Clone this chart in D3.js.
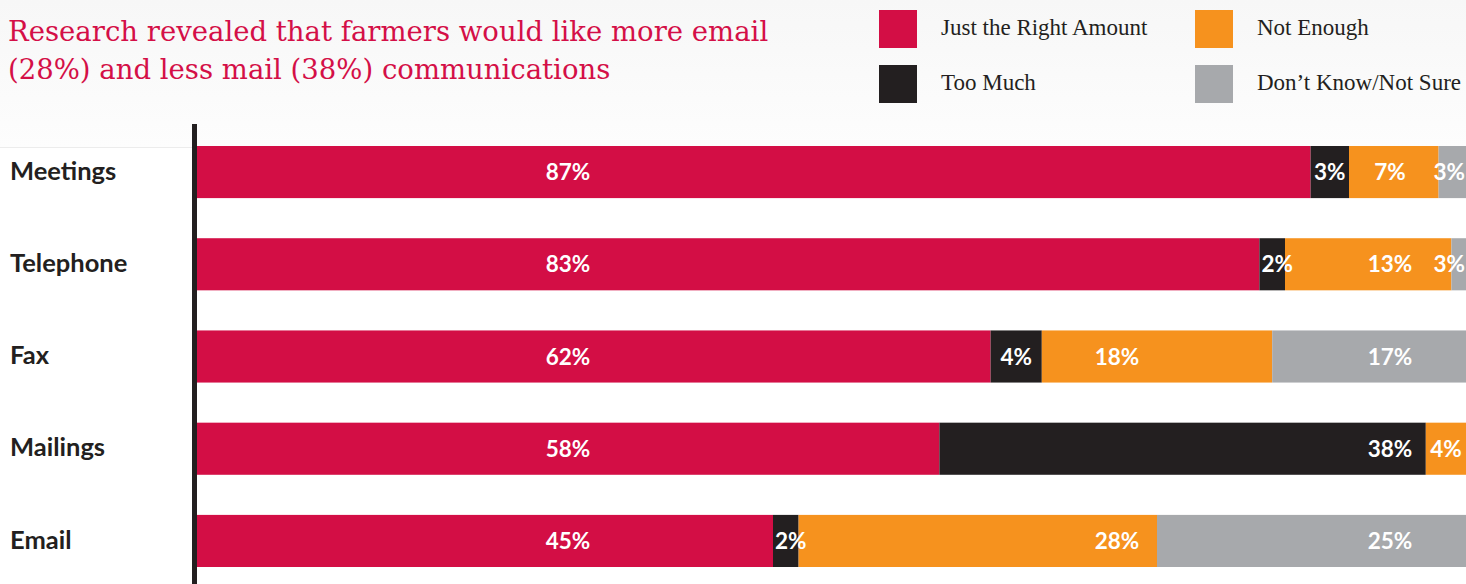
<!DOCTYPE html>
<html>
<head>
<meta charset="utf-8">
<script src="https://cdn.jsdelivr.net/npm/d3@7"></script>
<style>
  body { margin: 0; background: #fff; }
  svg { display: block; }
</style>
</head>
<body>
<script>
// chart size
var w = 1466;
var h = 584;

// data
var categories = ["Meetings", "Telephone", "Fax", "Mailings", "Email"];
var seriesNames = ["Just the Right Amount", "Too Much", "Not Enough", "Don\u2019t Know/Not Sure"];
var justRight = [87, 83, 62, 58, 45];
var tooMuch = [3, 2, 4, 38, 2];
var notEnough = [7, 13, 18, 4, 28];
var dontKnow = [3, 3, 17, 0, 25];
var titleLines = ["Research revealed that farmers would like more email",
                  "(28%) and less mail (38%) communications"];

var colors = ["#d30e45", "#231f20", "#f6921e", "#a7a9ac"];

var rows = categories.map(function(c, i) {
  return { cat: c, vals: [justRight[i], tooMuch[i], notEnough[i], dontKnow[i]] };
});

var svg = d3.select("body")
            .append("svg")
            .attr("width", w)
            .attr("height", h);

// faint header background
var defs = svg.append("defs");
var grad = defs.append("linearGradient").attr("id", "hdr").attr("x1", 0).attr("y1", 0).attr("x2", 0).attr("y2", 1);
grad.append("stop").attr("offset", "0%").attr("stop-color", "#f7f7f7");
grad.append("stop").attr("offset", "100%").attr("stop-color", "#fdfdfd");
svg.append("rect").attr("x", 0).attr("y", 0).attr("width", w).attr("height", 147).attr("fill", "url(#hdr)");
svg.append("line").attr("x1", 0).attr("x2", 192).attr("y1", 147.5).attr("y2", 147.5)
   .attr("stroke", "#ececec").attr("stroke-width", 1);

// title
svg.append("text")
   .attr("x", 8)
   .attr("font-family", "DejaVu Serif")
   .attr("font-size", "27.5px")
   .attr("fill", "#d40f47")
   .selectAll("tspan")
   .data(titleLines)
   .enter()
   .append("tspan")
   .attr("x", 8)
   .attr("y", function(d, i) { return 41 + i * 38; })
   .text(function(d) { return d; });

// legend
var legendPos = [[879, 10], [879, 65], [1195, 10], [1195, 65]];
var legend = svg.selectAll("g.legend")
   .data(seriesNames)
   .enter()
   .append("g")
   .attr("class", "legend")
   .attr("transform", function(d, i) { return "translate(" + legendPos[i][0] + "," + legendPos[i][1] + ")"; });
legend.append("rect")
   .attr("width", 38).attr("height", 38)
   .attr("fill", function(d, i) { return colors[i]; });
legend.append("text")
   .attr("x", 62).attr("y", 25)
   .attr("font-family", "Liberation Serif")
   .attr("font-size", "23px")
   .attr("fill", "#231f20")
   .text(function(d) { return d; });

// scales
var x = d3.scaleLinear().domain([0, 100]).range([197, 1477]);
var y = d3.scaleBand().domain(categories).range([146, 567]).paddingInner(0.435);

// stacked segments
var segs = [];
rows.forEach(function(r) {
  var acc = 0;
  r.vals.forEach(function(v, k) {
    segs.push({ cat: r.cat, k: k, v: v, x0: acc, x1: acc + v });
    acc += v;
  });
});

svg.append("g")
   .selectAll("rect")
   .data(segs.filter(function(d) { return d.v > 0; }))
   .enter()
   .append("rect")
   .attr("x", function(d) { return x(d.x0); })
   .attr("y", function(d) { return y(d.cat); })
   .attr("width", function(d) { return x(d.x1) - x(d.x0); })
   .attr("height", y.bandwidth())
   .attr("fill", function(d) { return colors[d.k]; });

// category axis
var yAxis = svg.append("g")
   .attr("transform", "translate(197,0)")
   .call(d3.axisLeft(y).tickSize(0));
yAxis.select(".domain").remove();
yAxis.selectAll("text")
   .attr("x", -187)
   .attr("dy", "0.3em")
   .attr("text-anchor", "start")
   .attr("font-family", "Lato")
   .attr("font-weight", "bold")
   .attr("font-size", "25.5px")
   .attr("fill", "#231f20");

svg.append("rect").attr("x", 192).attr("y", 124).attr("width", 5).attr("height", h - 124).attr("fill", "#231f20");

// value labels, snapped to label columns like the original layout
var cols = [568, 1117, 1390];
var labels = svg.append("g")
   .selectAll("text")
   .data(segs.filter(function(d) { return d.v > 0; }))
   .enter()
   .append("text")
   .attr("y", function(d) { return y(d.cat) + y.bandwidth() / 2; })
   .attr("dy", "0.36em")
   .attr("font-family", "Lato")
   .attr("font-weight", "bold")
   .attr("font-size", "22.5px")
   .attr("fill", "#fff")
   .text(function(d) { return d.v + "%"; });

labels.each(function(d) {
  var t = d3.select(this);
  var tw = this.getComputedTextLength();
  var a = x(d.x0), b = Math.min(x(d.x1), w);
  var fits = cols.filter(function(c) { return c - tw / 2 > a + 2 && c + tw / 2 < b - 2; });
  var cx;
  if (fits.length) {
    cx = d.k == 0 ? fits[0] : fits[fits.length - 1];
  } else if (b - a > tw + 6) {
    cx = (a + b) / 2;
  } else {
    cx = a + 2 + tw / 2;
  }
  cx = Math.min(cx, w - 1 - tw / 2);
  t.attr("x", cx).attr("text-anchor", "middle");
});
</script>
</body>
</html>
